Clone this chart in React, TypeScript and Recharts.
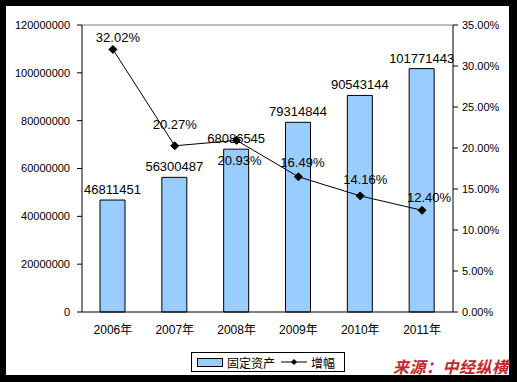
import React from "react"
import { ComposedChart, Bar, Line, XAxis, YAxis, LabelList, ReferenceLine } from "recharts"

const years = ["2006年", "2007年", "2008年", "2009年", "2010年", "2011年"]
const assets = [46811451, 56300487, 68086545, 79314844, 90543144, 101771443]
const growth = [32.02, 20.27, 20.93, 16.49, 14.16, 12.4]
const leftTicks = [0, 20000000, 40000000, 60000000, 80000000, 100000000, 120000000]
const rightTicks = [0, 5, 10, 15, 20, 25, 30, 35]

const data = years.map((year, i) => ({ year, assets: assets[i], growth: growth[i] }))

const FONT = "'Liberation Sans', Arial, 'Noto Sans CJK SC', sans-serif"

// hand placed so labels dodge the bars, like the original
const lineLabelOffsets = [
  [5, -12],
  [0, -21],
  [3, 20],
  [4, -14],
  [5, -16],
  [7, -13],
]

const Diamond = (props: any) => {
  const { cx, cy } = props
  if (cx == null || cy == null) return null
  const r = 4
  return (
    <path
      d={`M${cx},${cy - r} L${cx + r},${cy} L${cx},${cy + r} L${cx - r},${cy} Z`}
      fill="#000"
      stroke="#000"
    />
  )
}

const GrowthLabel = (props: any) => {
  const { x, y, index, value } = props
  const [dx, dy] = lineLabelOffsets[index] || [0, -12]
  return (
    <text x={x + dx} y={y + dy + 4.5} textAnchor="middle" fontSize={13} fill="#000" fontFamily={FONT}>
      {`${Number(value).toFixed(2)}%`}
    </text>
  )
}

export default function App() {
  return (
    <div style={{ position: "absolute", left: 0, top: 0, width: 517, height: 382, background: "#000", fontFamily: FONT }}>
      <div style={{ position: "absolute", left: 6, top: 6, width: 503, height: 369, background: "#fff" }} />
      <div style={{ position: "absolute", left: 0, top: 0 }}>
        <ComposedChart
          width={517}
          height={382}
          data={data}
          margin={{ top: 25, right: 0, left: 0, bottom: 40 }}
          barCategoryGap="30%"
        >
          <XAxis
            dataKey="year"
            height={30}
            tickLine={false}
            tickSize={0}
            tickMargin={13}
            axisLine={{ stroke: "#000" }}
            tick={{ fill: "#000", fontSize: 12, fontFamily: FONT }}
          />
          <YAxis
            yAxisId="left"
            width={82}
            domain={[0, 120000000]}
            ticks={leftTicks}
            interval={0}
            tickSize={5}
            tickMargin={7}
            axisLine={{ stroke: "#000" }}
            tickLine={{ stroke: "#000" }}
            tick={{ fill: "#000", fontSize: 11, fontFamily: FONT }}
          />
          <YAxis
            yAxisId="right"
            orientation="right"
            width={64}
            domain={[0, 35]}
            ticks={rightTicks}
            interval={0}
            tickSize={5}
            tickMargin={4}
            axisLine={{ stroke: "#000" }}
            tickLine={{ stroke: "#000" }}
            tick={{ fill: "#000", fontSize: 11, fontFamily: FONT }}
            tickFormatter={(v) => `${Number(v).toFixed(2)}%`}
          />
          <ReferenceLine yAxisId="left" y={120000000} stroke="#808080" />
          <Bar
            yAxisId="left"
            dataKey="assets"
            barSize={25}
            fill="#99CCFF"
            stroke="#000"
            strokeWidth={1}
            isAnimationActive={false}
          >
            <LabelList dataKey="assets" position="top" offset={6} fontSize={13} fill="#000" fontFamily={FONT} />
          </Bar>
          <Line
            yAxisId="right"
            dataKey="growth"
            stroke="#000"
            strokeWidth={1}
            dot={<Diamond />}
            activeDot={false}
            label={<GrowthLabel />}
            isAnimationActive={false}
          />
        </ComposedChart>
      </div>
      <div
        style={{
          position: "absolute",
          left: 191,
          top: 352,
          width: 152,
          height: 18,
          border: "1px solid #000",
          background: "#fff",
          display: "flex",
          alignItems: "center",
          fontSize: 12,
          color: "#000",
        }}
      >
        <span style={{ display: "inline-block", width: 24, height: 7, background: "#99CCFF", border: "1px solid #000", marginLeft: 5 }} />
        <span style={{ marginLeft: 4 }}>固定资产</span>
        <svg width={26} height={10} style={{ marginLeft: 6 }}>
          <line x1={0} y1={5} x2={26} y2={5} stroke="#000" />
          <path d="M13,2 L16,5 L13,8 L10,5 Z" fill="#000" />
        </svg>
        <span style={{ marginLeft: 4 }}>增幅</span>
      </div>
      <div
        style={{
          position: "absolute",
          left: 393,
          top: 359,
          fontSize: 16,
          fontWeight: "bold",
          fontStyle: "italic",
          color: "#C0262B",
          letterSpacing: 0.5,
          lineHeight: "18px",
          whiteSpace: "nowrap",
        }}
      >
        来源：中经纵横
      </div>
    </div>
  )
}
